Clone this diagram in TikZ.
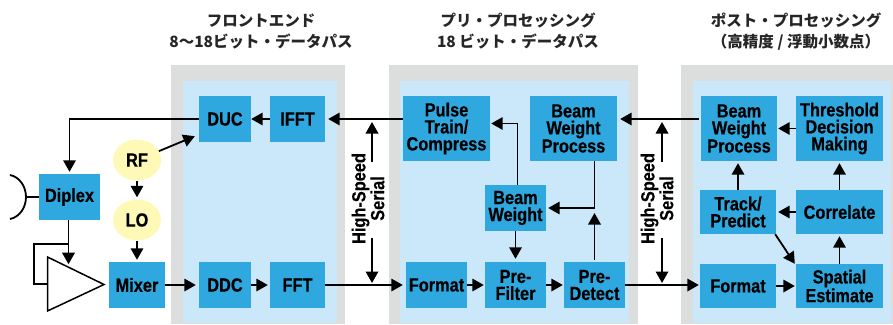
\documentclass[tikz,border=0pt]{standalone}
\usepackage{fontspec}
\setmainfont[FakeStretch=0.86,BoldFeatures={FakeBold=0.4}]{Liberation Sans}
\newfontfamily\cjk{Noto Sans CJK JP}
\usetikzlibrary{arrows.meta,calc,shapes.geometric}
\definecolor{outerc}{HTML}{DCDDDD}
\definecolor{innerc}{HTML}{CBE8FA}
\definecolor{boxc}{HTML}{2FA8E0}
\definecolor{ovalc}{HTML}{FEF9B7}
\tikzset{
  x=1pt,y=-1pt,
  lab/.style={font=\fontsize{19}{17}\selectfont\bfseries,align=center,inner sep=0pt,text=black},
  stage/.style={font=\cjk\fontsize{15.5}{21}\selectfont\bfseries,align=center,inner sep=0pt,text=black!85},
  oval/.style={lab,ellipse,fill=ovalc,minimum width=48pt,minimum height=41pt},
  conn/.style={line width=1.8pt,draw=black},
  arr/.style={conn,-{Triangle[length=11.5pt,width=12.5pt]}},
  tgap/.style={shorten >=2pt},
}
\newcommand{\bx}[6]{\node[lab,fill=boxc,minimum width=#4pt-#2pt,minimum height=#5pt-#3pt] (#1) at ({(#2+#4)/2},{(#3+#5)/2}) {#6};}
\newcommand{\panel}[4]{\fill[outerc] (#1,65) rectangle (#4,324); \fill[innerc] (#2,81) rectangle (#3,323);}
\begin{document}
\begin{tikzpicture}
\useasboundingbox (0,0) rectangle (893,324);
\panel{171}{183}{337}{345}
\panel{389}{400}{629}{638}
\panel{681}{693}{891}{893}
\node[stage] (t1) at (261,31.5) {フロントエンド\\8〜18ビット・データパス};
\node[stage] (t2) at (518,31.5) {プリ・プロセッシング\\18 ビット・データパス};
\node[stage] (t3) at (796,31.5) {ポスト・プロセッシング\\（高精度 / 浮動小数点）};
\bx{duc}{199}{96}{251}{142}{DUC}
\bx{ifft}{270}{96}{325}{142}{IFFT}
\bx{ddc}{199}{262}{251}{308}{DDC}
\bx{fft}{270}{262}{325}{308}{FFT}
\bx{diplex}{39}{174}{100}{220}{Diplex}
\bx{mixer}{109}{262}{165}{308}{Mixer}
\node[oval] (rf) at (137,160) {RF};
\node[oval] (lo) at (137,220) {LO};
\bx{pulse}{403}{96}{490}{161}{Pulse\\Train/\\Compress}
\bx{bwp}{530}{96}{617}{161}{Beam\\Weight\\Process}
\bx{bw}{485}{185}{546}{231}{Beam\\Weight}
\bx{fmta}{406}{262}{467}{308}{Format}
\bx{filt}{485}{262}{546}{308}{Pre-\\Filter}
\bx{det}{564}{262}{625}{308}{Pre-\\Detect}
\bx{bwpb}{701}{96}{777}{161}{Beam\\Weight\\Process}
\bx{thr}{796}{96}{883}{161}{Threshold\\Decision\\Making}
\bx{trk}{700}{190}{776}{234}{Track/\\Predict}
\bx{cor}{796}{190}{883}{234}{Correlate}
\bx{fmtb}{700}{264}{776}{308}{Format}
\bx{spa}{796}{264}{883}{308}{Spatial\\Estimate}
\node[lab,rotate=90] (hsa) at (368,198.5) {High-Speed\\Serial};
\node[lab,rotate=90] (hsb) at (657,198.5) {High-Speed\\Serial};
% amplifier and antenna
\draw[line width=1.5pt,fill=white] (47.5,257) coordinate (ampt) -- (104,284.5) coordinate (ampr) -- (47.5,311) coordinate (ampb) -- cycle;
\coordinate (ampl) at (47.5,284);
\coordinate (dish) at (26,197);
\draw[conn] (10,175) .. controls (20,177) and (26,187) .. (dish) .. controls (26,207) and (20,217) .. (10,219);
\draw[conn] (dish) -- (diplex.west);
% front end
\draw[arr,tgap] (duc.west) -| (diplex.north);
\coordinate (dout) at ($(diplex.south)+(-1,0)$);
\draw[conn] ($(dout)+(0,23.5)$) -| (34,284) -- (ampl);
\draw[arr] (dout) -- ($(dout)+(0,44)$);
\draw[arr] (rf.22) -- ([xshift=-4pt,yshift=6pt]duc.south west);
\draw[arr,tgap] (rf.south) -- (lo.north);
\draw[arr,tgap] (lo.south) -- (mixer.north);
\draw[arr,shorten >=3pt] (mixer.east) -- (ddc.west);
\draw[arr] (ddc.east) -- ([xshift=-2pt]fft.west);
\draw[arr] (ifft.west) -- (duc.east);
\draw[arr] ([yshift=9.5pt]pulse.west) -- ([xshift=3pt]ifft.east);
% preprocessing
\draw[arr] (fft.east) -- ([xshift=-3pt]fmta.west);
\draw[arr] (fmta.east) -- ([xshift=-1pt]filt.west);
\draw[arr] (filt.east) -- ([xshift=-1pt]det.west);
\draw[arr] (bw.south) -- ([yshift=3pt]filt.north);
\draw[arr] ([xshift=2pt]bw.north) |- ([xshift=1pt,yshift=5pt]pulse.east);
\draw[arr] (bwp.south -| det.north) |- ([xshift=2pt]bw.east);
\draw[arr] ([yshift=2pt]det.north) -- (det.north |- 0,213);
% postprocessing
\draw[arr] (det.east) -- ([xshift=-1pt,yshift=1pt]fmtb.west);
\draw[arr] ([xshift=-2pt,yshift=9.5pt]bwpb.west) -- ([xshift=3pt,yshift=9.5pt]bwp.east);
\draw[arr] (thr.west) -- ([xshift=1pt]bwpb.east);
\draw[arr] (trk.north) -- ([yshift=-2pt]trk.north |- bwpb.south);
\draw[arr] (cor.north) -- ([yshift=-2pt]thr.south);
\draw[arr] (cor.west) -- ([xshift=2pt]trk.east);
\draw[arr] (spa.north) -- ([yshift=-2pt]cor.south);
\draw[arr] (fmtb.east) -- ([xshift=-1pt]spa.west);
\draw[arr] ([xshift=-1pt]trk.south east) -- ([xshift=-1pt]spa.north west);
% high-speed serial links
\coordinate (hsat) at (372,122);
\coordinate (hsab) at (372,283);
\coordinate (hsbt) at (662,122);
\coordinate (hsbb) at (662,283);
\draw[arr] ($(hsa.east -| hsat)+(0,9)$) -- (hsat);
\draw[arr] ($(hsa.west -| hsab)+(0,-6)$) -- (hsab);
\draw[arr] ($(hsb.east -| hsbt)+(0,9)$) -- (hsbt);
\draw[arr] ($(hsb.west -| hsbb)+(0,-6)$) -- (hsbb);
\end{tikzpicture}
\end{document}
